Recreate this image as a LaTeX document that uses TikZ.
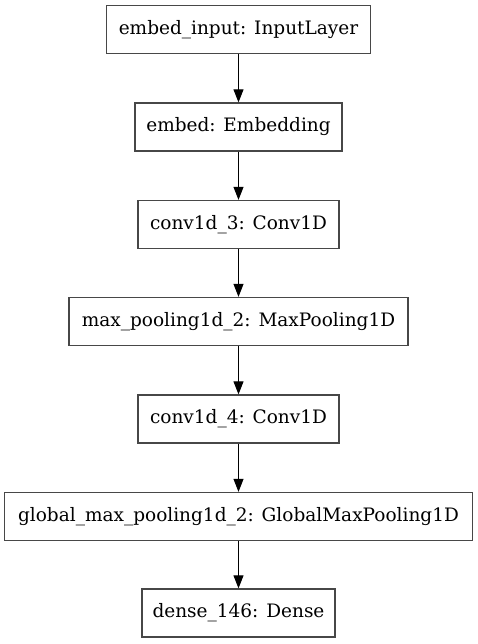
\documentclass[tikz,border=0pt]{standalone}
\usepackage{fontspec}
\setmainfont{DejaVu Serif}
\usetikzlibrary{arrows.meta}
\begin{document}
\begin{tikzpicture}[x=1pt,y=-1pt,
  layer/.style={draw=black!72, line width=1.3pt, minimum height=48pt, inner sep=0pt, font=\fontsize{18.5}{22}\selectfont, anchor=center},
  flow/.style={-{Triangle[length=13pt,width=10pt]}, line width=1pt, black}]
\useasboundingbox (0,0) rectangle (477,644);
\node[layer, minimum width=264pt] (n1) at (238.5,29.5) {embed\_input: InputLayer};
\node[layer, minimum width=207pt] (n2) at (238.5,127) {embed: Embedding};
\node[layer, minimum width=201pt] (n3) at (238.5,224.5) {conv1d\_3: Conv1D};
\node[layer, minimum width=339pt] (n4) at (238.5,321.5) {max\_pooling1d\_2: MaxPooling1D};
\node[layer, minimum width=201pt] (n5) at (238.5,419) {conv1d\_4: Conv1D};
\node[layer, minimum width=468pt] (n6) at (238.5,516.5) {global\_max\_pooling1d\_2: GlobalMaxPooling1D};
\node[layer, minimum width=193pt] (n7) at (238.5,613) {dense\_146: Dense};
\draw[flow] (n1) -- (n2);
\draw[flow] (n2) -- (n3);
\draw[flow] (n3) -- (n4);
\draw[flow] (n4) -- (n5);
\draw[flow] (n5) -- (n6);
\draw[flow] (n6) -- (n7);
\end{tikzpicture}
\end{document}
